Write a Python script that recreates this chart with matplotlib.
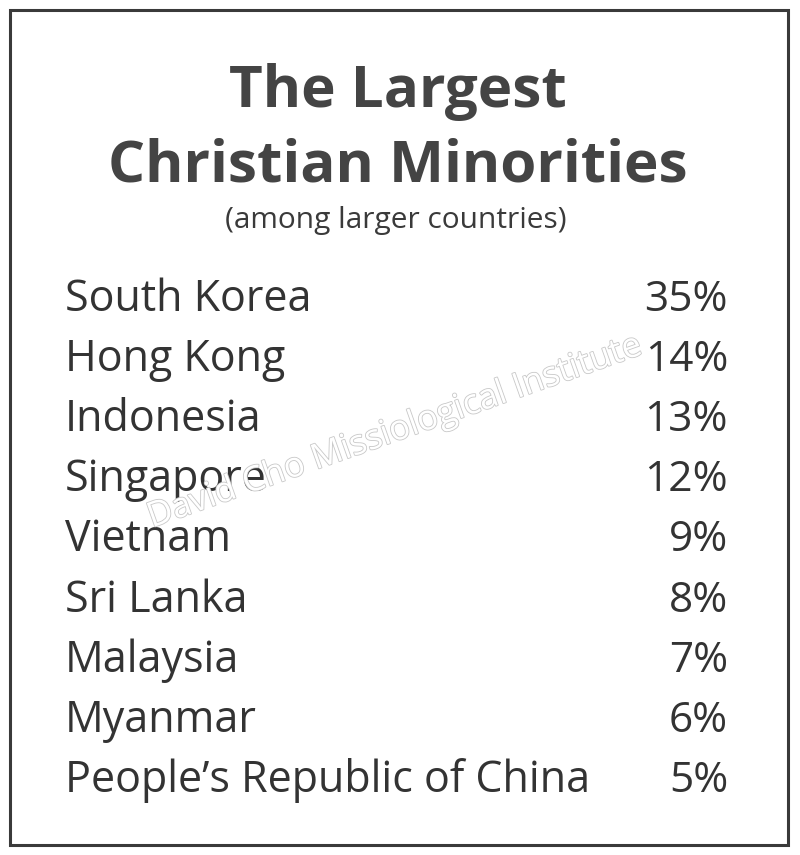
import matplotlib.pyplot as plt
import matplotlib.patheffects as pe
from matplotlib.patches import Rectangle

# Table content
title_lines = ["The Largest", "Christian Minorities"]
subtitle = "(among larger countries)"
countries = ["South Korea", "Hong Kong", "Indonesia", "Singapore", "Vietnam",
             "Sri Lanka", "Malaysia", "Myanmar", "People\u2019s Republic of China"]
percents = [35, 14, 13, 12, 9, 8, 7, 6, 5]
watermark = "David Cho Missiological Institute"

W, H = 800, 855
fig = plt.figure(figsize=(W / 100, H / 100), dpi=100)
fig.patch.set_facecolor("white")
ax = fig.add_axes([0, 0, 1, 1])
ax.set_xlim(0, W)
ax.set_ylim(H, 0)
ax.axis("off")

font = "Open Sans"
ink = "#333333"

# frame
ax.add_patch(Rectangle((10, 10), 778, 835, fill=False, edgecolor="#3a3a3a", lw=2.2))

# title
ax.text(398, 107, title_lines[0], ha="center", va="baseline", fontsize=42,
        fontweight="bold", family=font, color="#444444")
ax.text(398, 181, title_lines[1], ha="center", va="baseline", fontsize=42,
        fontweight="bold", family=font, color="#444444")
ax.text(396, 228, subtitle, ha="center", va="baseline", fontsize=21.5,
        family=font, color="#3a3a3a")

# rows
y0, step = 311, 60.1
for i, (c, p) in enumerate(zip(countries, percents)):
    y = y0 + i * step
    ax.text(65, y, c, ha="left", va="baseline", fontsize=31, family=font, color=ink)
    ax.text(728, y, f"{p}%", ha="right", va="baseline", fontsize=30.5, family=font, color=ink)

# watermark
ax.text(395, 432, watermark, ha="center", va="center", rotation=19.5, fontsize=25,
        family=font, color="white", zorder=5,
        path_effects=[pe.Stroke(linewidth=1.2, foreground="#c8c8c8"), pe.Normal()])

fig.savefig("out.png", dpi=100, facecolor="white")
